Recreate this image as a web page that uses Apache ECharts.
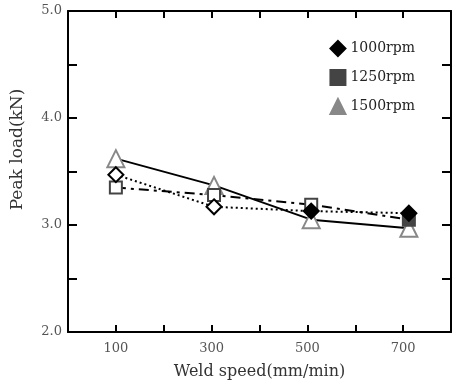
<!DOCTYPE html>
<html>
<head>
<meta charset="utf-8">
<script src="https://cdn.jsdelivr.net/npm/echarts@6/dist/echarts.min.js"></script>
<style>
  html, body { margin: 0; padding: 0; background: #fff; }
  #main { width: 454px; height: 385px; }
</style>
</head>
<body>
<div id="main"></div>
<script>
// weld speed of each measured point (mm/min)
const speeds = [100, 305, 508, 712];
const rpmNames = ['1000rpm', '1250rpm', '1500rpm'];
const load1000 = [3.47, 3.17, 3.13, 3.11];
const load1250 = [3.35, 3.28, 3.19, 3.05];
const load1500 = [3.62, 3.37, 3.05, 2.97];
const xTickLabels = [100, 300, 500, 700];
const yTickLabels = [2, 3, 4, 5];

const font = 'DejaVu Serif';
const myChart = echarts.init(document.getElementById('main'));

// hollow markers at some points, filled at others
const makeData = (vals, hollow, col) => vals.map((v, i) => {
    const item = { value: [speeds[i], v] };
    if (hollow[i]) {
        item.itemStyle = { color: '#fff', borderColor: col, borderWidth: 2 };
    }
    return item;
});

const tickStyle = { color: '#000', width: 2 };

// x ticks are drawn by extra axes shifted into the plot, so they point inward
const xTickAxis = (pos) => ({
    type: 'value', min: 0, max: 800, interval: 100,
    position: pos,
    offset: -7,
    axisLine: { show: false, onZero: false },
    axisTick: { show: true, length: 7, lineStyle: tickStyle },
    axisLabel: { show: false },
    splitLine: { show: false }
});

const option = {
    backgroundColor: '#fff',
    animation: false,
    grid: { left: 68, right: 2, top: 11, bottom: 53 },
    legend: {
        orient: 'vertical',
        right: 34,
        top: 35,
        itemGap: 12,
        itemWidth: 15,
        itemHeight: 15,
        textStyle: { fontFamily: font, fontSize: 14, color: '#222' },
        data: [
            { name: rpmNames[0], icon: 'diamond', itemStyle: { color: '#000' } },
            { name: rpmNames[1], icon: 'rect', itemStyle: { color: '#444' } },
            { name: rpmNames[2], icon: 'triangle', itemStyle: { color: '#888' } }
        ]
    },
    xAxis: [
        {
            type: 'value',
            min: 0,
            max: 800,
            interval: 100,
            position: 'bottom',
            axisLine: { show: true, onZero: false, lineStyle: { color: '#000', width: 2 } },
            axisTick: { show: false },
            splitLine: { show: false },
            name: 'Weld speed(mm/min)',
            nameLocation: 'middle',
            nameGap: 32,
            nameTextStyle: { fontFamily: font, fontSize: 16, color: '#333' },
            axisLabel: {
                fontFamily: font, fontSize: 13, color: '#555', margin: 10,
                formatter: (v) => (xTickLabels.indexOf(v) >= 0 ? String(v) : '')
            }
        },
        {
            type: 'value', min: 0, max: 800, interval: 100,
            position: 'top',
            axisLine: { show: true, onZero: false, lineStyle: { color: '#000', width: 2 } },
            axisTick: { show: false },
            axisLabel: { show: false },
            splitLine: { show: false }
        },
        xTickAxis('bottom'),
        xTickAxis('top')
    ],
    yAxis: [
        {
            type: 'value',
            min: 2,
            max: 5,
            interval: 0.5,
            position: 'left',
            axisLine: { show: true, onZero: false, lineStyle: { color: '#000', width: 2 } },
            axisTick: { show: true, inside: true, length: 9, lineStyle: tickStyle },
            splitLine: { show: false },
            name: 'Peak load(kN)',
            nameLocation: 'middle',
            nameGap: 42,
            nameTextStyle: { fontFamily: font, fontSize: 17, color: '#333', padding: [0, 0, 0, 44] },
            axisLabel: {
                fontFamily: font, fontSize: 13, color: '#555', margin: 6,
                formatter: (v) => (yTickLabels.indexOf(v) >= 0 ? v.toFixed(1) : '')
            }
        },
        {
            type: 'value', min: 2, max: 5, interval: 0.5,
            position: 'right',
            axisLine: { show: true, onZero: false, lineStyle: { color: '#000', width: 2 } },
            axisTick: { show: true, inside: true, length: 9, lineStyle: tickStyle },
            axisLabel: { show: false },
            splitLine: { show: false }
        }
    ],
    series: [
        {
            name: rpmNames[2],
            type: 'line',
            symbol: 'triangle',
            symbolSize: 17,
            z: 3,
            lineStyle: { color: '#000', width: 2, type: 'solid' },
            itemStyle: { color: '#888', borderColor: '#888', borderWidth: 2 },
            data: makeData(load1500, [true, true, true, true], '#888')
        },
        {
            name: rpmNames[1],
            type: 'line',
            symbol: 'rect',
            symbolSize: 12,
            z: 4,
            lineStyle: { color: '#000', width: 2, type: [10, 5, 3, 5] },
            itemStyle: { color: '#444', borderColor: '#444', borderWidth: 2 },
            data: makeData(load1250, [true, true, true, false], '#444')
        },
        {
            name: rpmNames[0],
            type: 'line',
            symbol: 'diamond',
            symbolSize: 15,
            z: 5,
            lineStyle: { color: '#000', width: 2, type: [2, 3] },
            itemStyle: { color: '#000', borderColor: '#000', borderWidth: 2 },
            data: makeData(load1000, [true, true, false, false], '#000')
        }
    ]
};

option && myChart.setOption(option);
</script>
</body>
</html>
